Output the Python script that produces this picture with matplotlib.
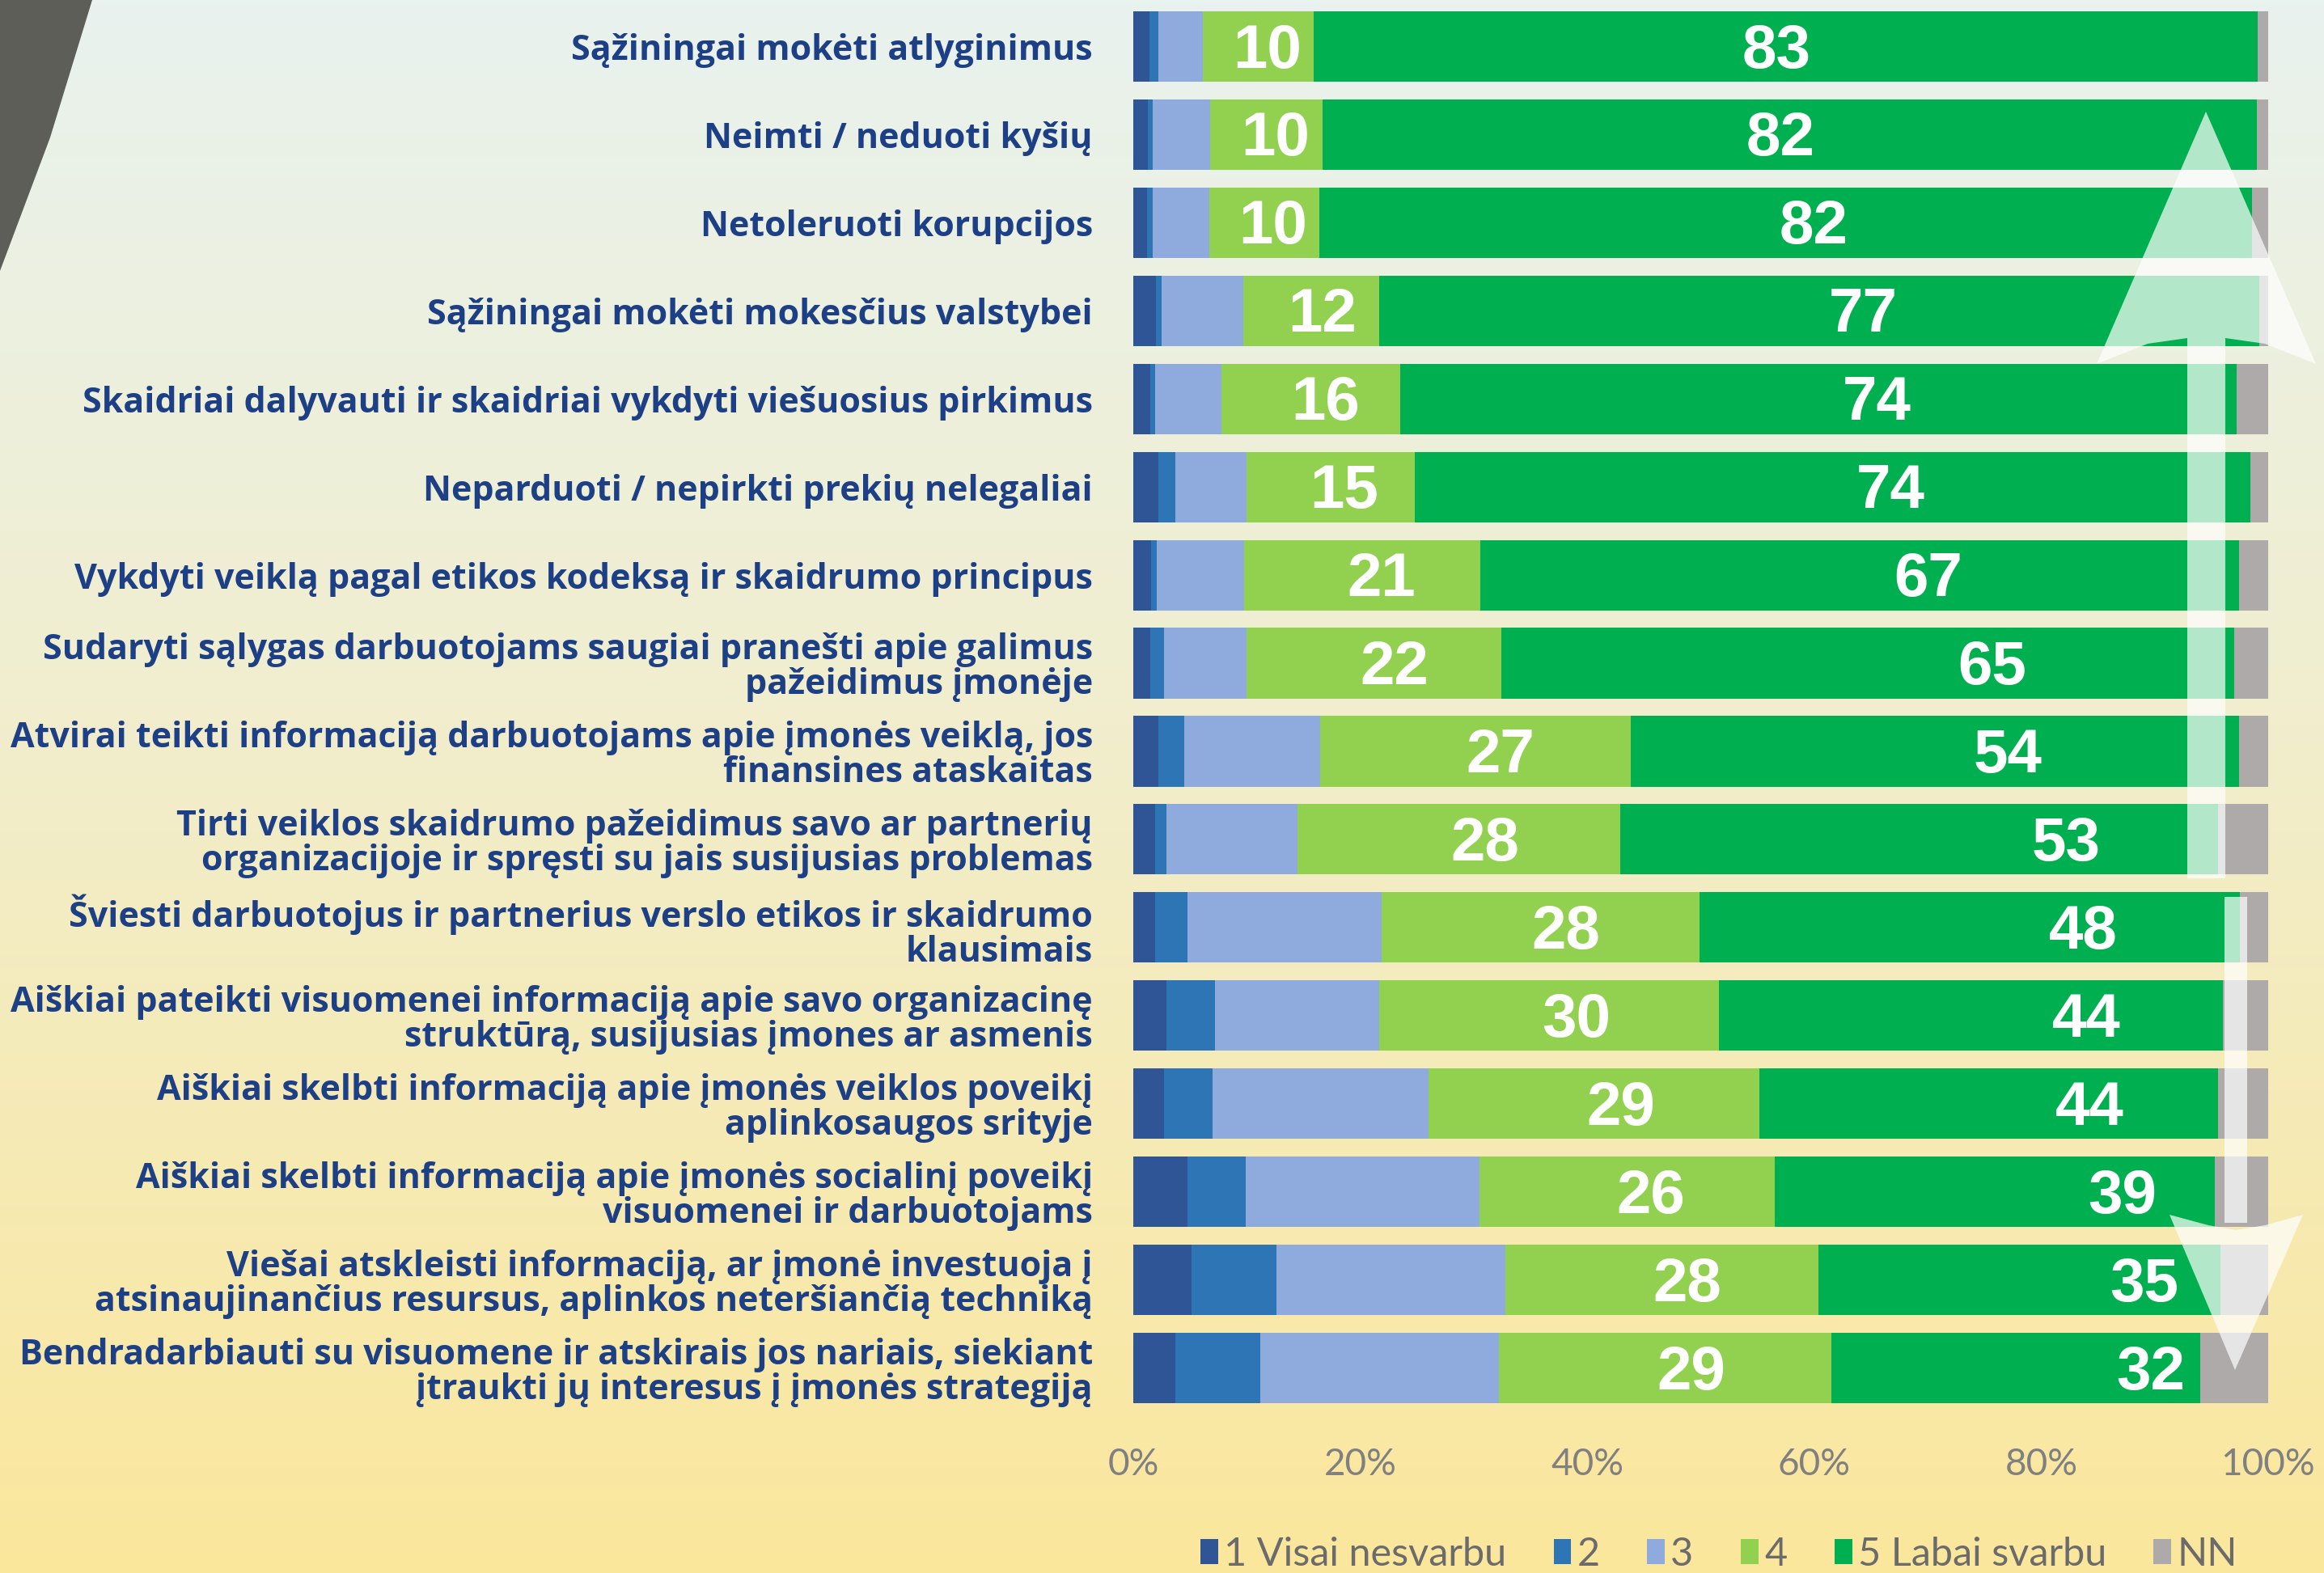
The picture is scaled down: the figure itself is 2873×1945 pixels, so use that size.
import matplotlib.pyplot as plt
import numpy as np
from matplotlib.patches import Polygon, Rectangle

# Categories (top to bottom) and answer shares in %
categories = [
    'Sąžiningai mokėti atlyginimus',
    'Neimti / neduoti kyšių',
    'Netoleruoti korupcijos',
    'Sąžiningai mokėti mokesčius valstybei',
    'Skaidriai dalyvauti ir skaidriai vykdyti viešuosius pirkimus',
    'Neparduoti / nepirkti prekių nelegaliai',
    'Vykdyti veiklą pagal etikos kodeksą ir skaidrumo principus',
    'Sudaryti sąlygas darbuotojams saugiai pranešti apie galimus\npažeidimus įmonėje',
    'Atvirai teikti informaciją darbuotojams apie įmonės veiklą, jos\nfinansines ataskaitas',
    'Tirti veiklos skaidrumo pažeidimus savo ar partnerių\norganizacijoje ir spręsti su jais susijusias problemas',
    'Šviesti darbuotojus ir partnerius verslo etikos ir skaidrumo\nklausimais',
    'Aiškiai pateikti visuomenei informaciją apie savo organizacinę\nstruktūrą, susijusias įmones ar asmenis',
    'Aiškiai skelbti informaciją apie įmonės veiklos poveikį\naplinkosaugos srityje',
    'Aiškiai skelbti informaciją apie įmonės socialinį poveikį\nvisuomenei ir darbuotojams',
    'Viešai atskleisti informaciją, ar įmonė investuoja į\natsinaujinančius resursus, aplinkos neteršiančią techniką',
    'Bendradarbiauti su visuomene ir atskirais jos nariais, siekiant\nįtraukti jų interesus į įmonės strategiją',
]
v1 = [1.4, 1.3, 1.2, 2.0, 1.5, 2.2, 1.6, 1.5, 2.2, 1.9, 1.9, 2.9, 2.7, 4.8, 5.1, 3.7]
v2 = [0.8, 0.4, 0.5, 0.5, 0.4, 1.5, 0.5, 1.2, 2.3, 1.0, 2.9, 4.3, 4.3, 5.1, 7.5, 7.5]
v3 = [3.9, 5.1, 5.0, 7.2, 5.9, 6.3, 7.7, 7.3, 12.0, 11.6, 17.1, 14.5, 19.0, 20.6, 20.2, 21.0]
v4 = [9.8, 9.9, 9.7, 12.0, 15.7, 14.8, 20.8, 22.4, 27.3, 28.4, 28.0, 29.9, 29.2, 26.0, 27.6, 29.3]
v5 = [83.2, 82.3, 82.2, 77.5, 73.7, 73.6, 66.8, 64.6, 53.6, 52.7, 47.6, 44.4, 40.4, 38.8, 35.4, 32.5]
nn = [0.9, 1.0, 1.4, 0.8, 2.8, 1.6, 2.6, 3.0, 2.6, 4.4, 2.5, 4.0, 4.4, 4.7, 4.2, 6.0]

# numbers printed on the bars
lbl4 = [10, 10, 10, 12, 16, 15, 21, 22, 27, 28, 28, 30, 29, 26, 28, 29]
lbl5 = [83, 82, 82, 77, 74, 74, 67, 65, 54, 53, 48, 44, 44, 39, 35, 32]

series_names = ['1 Visai nesvarbu', '2', '3', '4', '5 Labai svarbu', 'NN']
colors = ['#2F5597', '#2E75B6', '#8FAADC', '#92D050', '#00B050', '#AEAAAA']
ticks = [0, 20, 40, 60, 80, 100]

# where the labels sit inside their segment (fraction of segment width)
lbl4_at = 0.58
lbl5_at = [0.49, 0.49, 0.53, 0.55, 0.57, 0.57, 0.59, 0.67, 0.62, 0.745, 0.71, 0.73, 0.72, 0.79, 0.81, 0.866]

W, H = 2873, 1945
fig = plt.figure(figsize=(W / 100, H / 100), dpi=100)

# background gradient (mint at top -> yellow at bottom)
bg = fig.add_axes([0, 0, 1, 1])
bg.set_zorder(-10)
t = np.linspace(0, 1, 400)
stops = [0, 0.45, 1]
c_top, c_mid, c_bot = np.array([232, 242, 238]), np.array([241, 238, 206]), np.array([251, 231, 156])
grad = np.stack([np.interp(t, stops, [c_top[i], c_mid[i], c_bot[i]]) for i in range(3)], axis=-1) / 255
bg.imshow(grad[:, None, :], aspect='auto', extent=[0, 1, 0, 1])
bg.axis('off')

ax = fig.add_axes([1401 / W, 1 - 1746 / H, 1403 / W, 1743 / H])
ax.set_facecolor('none')

y = np.arange(len(categories))
series = [v1, v2, v3, v4, v5, nn]
left = np.zeros(len(categories))
bars = []
for vals, name, col in zip(series, series_names, colors):
    b = ax.barh(y, vals, left=left, height=0.8, color=col, label=name)
    bars.append(b)
    left = left + np.array(vals)

# value labels on segments 4 and 5
start4 = np.array(v1) + np.array(v2) + np.array(v3)
for i in range(len(categories)):
    x4 = start4[i] + v4[i] * lbl4_at
    ax.text(x4, y[i] + 0.06, str(lbl4[i]), ha='center', va='center', color='white',
            fontsize=55, fontweight='bold', family='Liberation Sans')
    x5 = start4[i] + v4[i] + v5[i] * lbl5_at[i]
    ax.text(x5, y[i] + 0.06, str(lbl5[i]), ha='center', va='center', color='white',
            fontsize=55, fontweight='bold', family='Liberation Sans')

ax.set_xlim(0, 100)
ax.set_ylim(len(categories) - 0.5, -0.5)
ax.set_yticks(y)
ax.set_yticklabels(categories, fontsize=31, fontweight='bold', color='#1D3F85',
                   family='Open Sans', linespacing=1.0)
ax.set_xticks(ticks)
ax.set_xticklabels([f'{v}%' for v in ticks], fontsize=33, color='#808080',
                   family='Lato')
ax.tick_params(axis='both', length=0)
ax.tick_params(axis='y', pad=36)
ax.tick_params(axis='x', pad=32)
for s in ax.spines.values():
    s.set_visible(False)

fig.legend(handles=bars, labels=series_names, loc='center', ncol=6,
           bbox_to_anchor=(2125 / W, 1 - 1922 / H), frameon=False,
           prop={'family': 'Lato', 'size': 35},
           labelcolor='#6b6b6b', handlelength=0.45, handleheight=0.6,
           handletextpad=0.15, columnspacing=1.2)

# decorative overlay: grey corner shape and translucent arrows (pixel coords)
ov = fig.add_axes([0, 0, 1, 1])
ov.set_zorder(10)
ov.set_facecolor('none')
ov.set_xlim(0, W)
ov.set_ylim(H, 0)
ov.axis('off')
ov.add_patch(Polygon([(0, 0), (114, 0), (62, 170), (0, 335)],
                     closed=True, color='#5E5E58', lw=0))
wcol = (1, 1, 1, 0.7)
ov.add_patch(Polygon([(2727, 138), (2863, 450), (2800, 425), (2751, 418), (2704, 418),
                      (2655, 425), (2592, 450)], closed=True, color=wcol, lw=0))
ov.add_patch(Rectangle((2704, 418), 47, 668, color=wcol, lw=0))
ov.add_patch(Rectangle((2750, 1109), 28, 403, color=wcol, lw=0))
ov.add_patch(Polygon([(2682, 1502), (2730, 1515), (2764, 1521), (2800, 1515), (2847, 1502),
                      (2763, 1694)], closed=True, color=wcol, lw=0))

fig.savefig('out.png', dpi=100)
